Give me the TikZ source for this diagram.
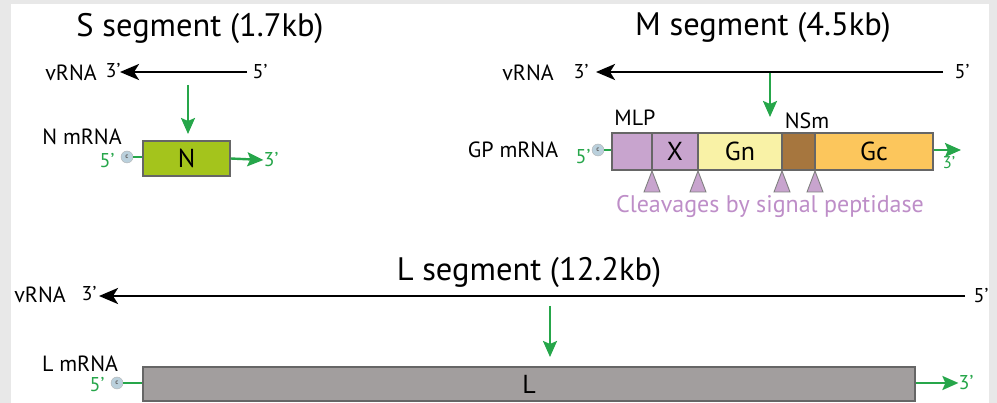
\documentclass[tikz,border=0pt]{standalone}
\usepackage{fontspec}
\setmainfont{PT Sans}
\usetikzlibrary{arrows.meta}
\definecolor{rnagreen}{RGB}{38,166,74}
\definecolor{ngreen}{RGB}{164,196,28}
\definecolor{mlppurple}{RGB}{200,164,206}
\definecolor{gnyellow}{RGB}{249,242,166}
\definecolor{nsmbrown}{RGB}{166,118,62}
\definecolor{gcorange}{RGB}{252,198,92}
\definecolor{lgray}{RGB}{162,158,158}
\definecolor{cleavetext}{RGB}{190,142,200}
\definecolor{capblue}{RGB}{186,208,220}
\definecolor{framegray}{RGB}{232,232,232}
\begin{document}
\begin{tikzpicture}[x=1pt,y=-1pt,
  segtitle/.style={inner sep=0pt,anchor=base,font=\fontsize{32.5}{34}\selectfont},
  lbl/.style={inner sep=0pt,font=\fontsize{22}{24}\selectfont},
  endlbl/.style={inner sep=0pt,font=\fontsize{20}{22}\selectfont},
  gendlbl/.style={endlbl,text=rnagreen},
  gene/.style={draw=black!60,line width=1.2pt,inner sep=0pt,minimum height=37pt,font=\fontsize{26}{28}\selectfont},
  capdot/.style={circle,draw=black!30,fill=capblue,minimum size=12pt,inner sep=0pt,font=\fontsize{7}{7}\selectfont\bfseries,text=black!60},
  vrna/.style={line width=2.8pt,-{Stealth[length=19pt,width=16pt,inset=5pt]}},
  grn/.style={rnagreen,line width=2.4pt,-{Stealth[length=16pt,width=14pt,inset=3pt]}},
  capline/.style={rnagreen,line width=1.6pt},
  cleave/.style={draw=black!50,fill=mlppurple,line width=0.9pt}]
\fill[framegray] (0,0) rectangle (997,403);
\fill[white] (11,4) rectangle (989,403);
\useasboundingbox (0,0) rectangle (997,403);
% S segment
\node[segtitle] (stitle) at (200,37) {S segment (1.7kb)};
\node[lbl] (svrna) at (71,73) {vRNA};
\node[endlbl] (s3) at (113,71) {3’};
\node[endlbl] (s5) at (260,72) {5’};
\coordinate (s5e) at (247,72);
\coordinate (s3e) at (120,72);
\draw[vrna] (s5e) -- (s3e);
\coordinate (sfrom) at (188,85);
\coordinate (sto) at (188,134);
\draw[grn] (sfrom) -- (sto);
\node[lbl] (smrna) at (82,137) {N mRNA};
\node[gene,fill=ngreen,minimum width=87pt,minimum height=35pt] (N) at (186.5,158.5) {N};
\node[capdot] (scap) at (127,157) {c};
\node[gendlbl] (s5g) at (107,161) {5’};
\draw[capline] (scap) -- (N.west |- scap);
\node[gendlbl] (s3g) at (271,160) {3’};
\draw[grn] (N.east) -- (s3g.west);
% M segment
\node[segtitle] (mtitle) at (763,36) {M segment (4.5kb)};
\node[lbl] (mvrna) at (528,73) {vRNA};
\node[endlbl] (m3) at (581,72) {3’};
\node[endlbl] (m5) at (962,72) {5’};
\coordinate (m5e) at (943,72);
\coordinate (m3e) at (596,72);
\draw[vrna] (m5e) -- (m3e);
\coordinate (mfrom) at (770,73);
\coordinate (mto) at (770,117);
\draw[grn] (mfrom) -- (mto);
\node[lbl] (mlplbl) at (635,118) {MLP};
\node[lbl] (nsmlbl) at (807,121) {NSm};
\node[lbl] (mmrna) at (513,150) {GP mRNA};
\node[gene,fill=mlppurple,minimum width=40pt] (MLP) at (632,151.5) {};
\node[gene,fill=mlppurple,minimum width=46pt] (X) at (675,151.5) {X};
\node[gene,fill=gnyellow,minimum width=84pt] (Gn) at (740,151.5) {Gn};
\node[gene,fill=nsmbrown,minimum width=33pt] (NSm) at (798.5,151.5) {};
\node[gene,fill=gcorange,minimum width=118pt] (Gc) at (874,151.5) {Gc};
\node[capdot] (mcap) at (598,150) {c};
\node[gendlbl] (m5g) at (583,157) {5’};
\draw[capline] (mcap) -- (MLP.west |- mcap);
\coordinate (mend) at (961,150);
\draw[grn] (Gc.east |- mend) -- (mend);
\node[gendlbl,font=\fontsize{17}{19}\selectfont] (m3g) at (949,163) {3’};
\foreach \cx in {652,698,782,815}
  \draw[cleave] (\cx,171) -- (\cx-8,192) -- (\cx+8,192) -- cycle;
\node[inner sep=0pt,text=cleavetext,font=\fontsize{24}{26}\selectfont] (cleave) at (770,207) {Cleavages by signal peptidase};
% L segment
\node[segtitle] (ltitle) at (529,281) {L segment (12.2kb)};
\node[lbl] (lvrna) at (40,295) {vRNA};
\node[endlbl] (l3) at (89,294) {3’};
\node[endlbl] (l5) at (981,296) {5’};
\coordinate (l5e) at (965,296);
\coordinate (l3e) at (99,296);
\draw[vrna] (l5e) -- (l3e);
\coordinate (lfrom) at (550,306);
\coordinate (lto) at (550,357);
\draw[grn] (lfrom) -- (lto);
\node[lbl] (lmrna) at (80,364) {L mRNA};
\node[gene,fill=lgray,minimum width=772pt,minimum height=34pt] (L) at (529,384) {L};
\node[capdot] (lcap) at (117,383) {c};
\node[gendlbl] (l5g) at (97,385) {5’};
\draw[capline] (lcap) -- (L.west |- lcap);
\node[gendlbl] (l3g) at (966,383) {3’};
\draw[grn] (L.east |- l3g) -- (l3g.west);
\end{tikzpicture}
\end{document}
